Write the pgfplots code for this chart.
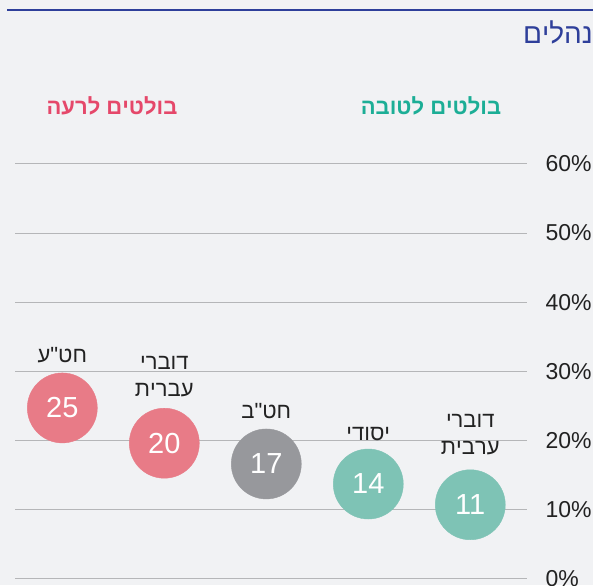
\documentclass[border=0pt]{standalone}
\usepackage{fontspec}
\setmainfont{Liberation Sans}[Ligatures=TeXOff]
\usepackage{pgfplots}
\pgfplotsset{compat=1.18}
\TeXXeTstate=1
\definecolor{bg}{HTML}{F1F2F4}
\definecolor{navy}{HTML}{2E3F9A}
\definecolor{pinkb}{HTML}{E87B87}
\definecolor{greyb}{HTML}{97989C}
\definecolor{tealb}{HTML}{7EC3B5}
\definecolor{pinkt}{HTML}{E5486A}
\definecolor{tealt}{HTML}{1CAE96}
\definecolor{gridc}{HTML}{B5B6B8}
\definecolor{txt}{HTML}{222222}
\begin{document}
\begin{tikzpicture}[x=1pt,y=1pt]
\fill[bg] (0,0) rectangle (593,585);
\useasboundingbox (0,0) rectangle (593,585);
\draw[navy, line width=1.2pt] (7,575) -- (593,575);
\node[navy, anchor=east, inner sep=0pt, font=\fontsize{28}{28}\selectfont] at (593,553) {\beginR נהלים\endR};
\node[pinkt, inner sep=0pt, font=\bfseries\fontsize{22}{22}\selectfont] at (112,479) {\beginR בולטים לרעה\endR};
\node[tealt, inner sep=0pt, font=\bfseries\fontsize{22}{22}\selectfont] at (431,479) {\beginR בולטים לטובה\endR};
\begin{axis}[at={(15,9)}, anchor=south west, scale only axis,
  width=512pt, height=415pt,
  xmin=-0.461, xmax=4.559, ymin=0, ymax=60,
  axis line style={draw=none}, major tick length=0pt,
  xtick=\empty,
  ytick={0,10,20,30,40,50,60},
  yticklabels={0\%,10\%,20\%,30\%,40\%,50\%,60\%},
  yticklabel pos=right,
  yticklabel style={anchor=west, inner sep=0pt, xshift=18pt, text=txt, font=\fontsize{23}{23}\selectfont},
  ymajorgrids, major grid style={gridc, line width=0.8pt},
  clip=false,
  nodes near coords style={anchor=center, text=white, font=\fontsize{29}{29}\selectfont},
]
\addplot[pinkb, only marks, mark=*, mark size=35pt, mark options={draw=pinkb, fill=pinkb},
  nodes near coords, point meta=explicit symbolic]
  table[meta=lab] {
x y lab
0 24.7 25
1 19.6 20
};
\addplot[greyb, only marks, mark=*, mark size=35pt, mark options={draw=greyb, fill=greyb},
  nodes near coords, point meta=explicit symbolic]
  table[meta=lab] {
x y lab
2 16.6 17
};
\addplot[tealb, only marks, mark=*, mark size=35pt, mark options={draw=tealb, fill=tealb},
  nodes near coords, point meta=explicit symbolic]
  table[meta=lab] {
x y lab
3 13.7 14
4 10.7 11
};
\node[text=txt, align=center, font=\fontsize{22}{27}\selectfont] at (axis cs:0,32.4) {\beginR חט"ע\endR};
\node[text=txt, align=center, font=\fontsize{22}{27}\selectfont] at (axis cs:1,29.3) {\beginR דוברי\endR\\\beginR עברית\endR};
\node[text=txt, align=center, font=\fontsize{22}{27}\selectfont] at (axis cs:2,24.3) {\beginR חט"ב\endR};
\node[text=txt, align=center, font=\fontsize{22}{27}\selectfont] at (axis cs:3,21.0) {\beginR יסודי\endR};
\node[text=txt, align=center, font=\fontsize{22}{27}\selectfont] at (axis cs:4,20.9) {\beginR דוברי\endR\\\beginR ערבית\endR};
\end{axis}
\end{tikzpicture}
\end{document}
